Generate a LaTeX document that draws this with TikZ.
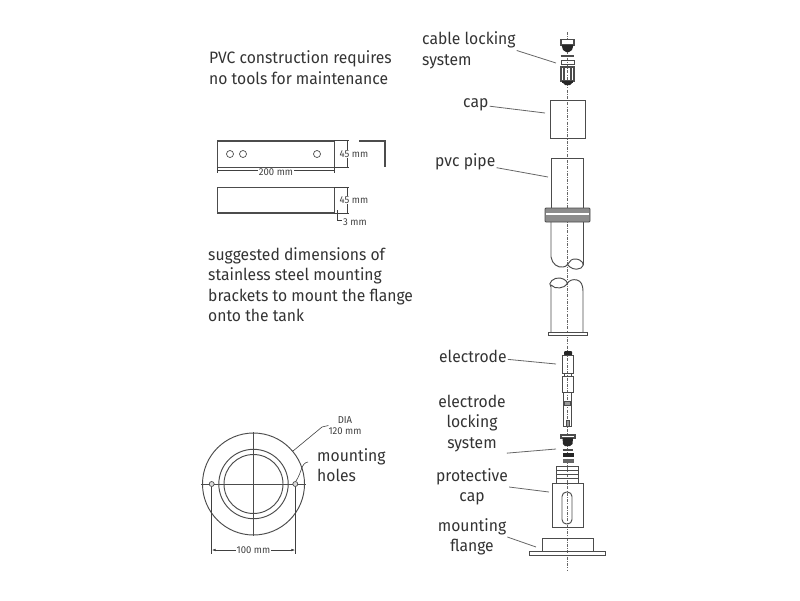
\documentclass[tikz,border=0pt]{standalone}
\usepackage{fontspec}
\setmainfont[FakeStretch=0.95]{Fira Sans}
\usetikzlibrary{arrows.meta}
\definecolor{inkgrey}{gray}{0.3}
\tikzset{
	lbl/.style={text=black!80, inner sep=1pt, font=\fontsize{16.5}{20.5}\selectfont},
	dimlbl/.style={text=black!75, inner sep=1pt, fill=white, font=\fontsize{10}{11}\selectfont},
	part/.style={draw=inkgrey, line width=0.95pt},
	thinpart/.style={draw=inkgrey, line width=0.7pt},
	leader/.style={draw=black!60, line width=0.8pt},
	dimline/.style={draw=black!75, line width=0.6pt},
	dimarrow/.style={dimline, {Latex[length=4pt,width=2.5pt]}-{Latex[length=4pt,width=2.5pt]}},
}
\begin{document}
\begin{tikzpicture}[x=1pt, y=-1pt]
	\useasboundingbox (0, 0) rectangle (800, 600);
	%%%%% TEXT %%%%%
	\node[lbl, align=left, anchor=west] (lblpvc) at (208, 67.5) {PVC construction requires\\no tools for maintenance};
	\node[lbl, align=left, anchor=west] (lblbracket) at (207, 284.5) {suggested dimensions of\\stainless steel mounting\\brackets to mount the flange\\onto the tank};
	\node[lbl, align=left, anchor=west] (lblholes) at (316, 465) {mounting\\holes};
	\node[lbl, align=left, anchor=west] (lblcable) at (421, 50.5) {cable locking\\system};
	\node[lbl, anchor=west] (lblcap) at (462, 104.5) {cap};
	\node[lbl, anchor=west] (lblpipe) at (434, 162) {pvc pipe};
	\node[lbl, anchor=west] (lblelectrode) at (438, 356) {electrode};
	\node[lbl, align=center] (lbllocking) at (472, 423.5) {electrode\\locking\\system};
	\node[lbl, align=center] (lblprotect) at (472, 487) {protective\\cap};
	\node[lbl, align=center] (lblflange) at (472, 537) {mounting\\flange};
	
	%%%%% TOP BRACKET %%%%%
	\draw[part] (217, 140) rectangle (334, 167);
	\draw[part] (217, 141.5) -- (334, 141.5);
	\draw[thinpart] (230, 154) circle (3.5);
	\draw[thinpart] (243, 154) circle (3.5);
	\draw[thinpart] (317, 154) circle (3.5);
	\draw[dimline] (334, 140) -- (349, 140);
	\draw[dimline] (334, 167) -- (349, 167);
	\draw[dimline] (347, 140) -- (347, 167);
	\draw[dimline] (217, 167) -- (217, 173);
	\draw[dimline] (334, 167) -- (334, 173);
	\draw[dimline] (217, 170.5) -- (334, 170.5);
	\node[dimlbl] (dim200) at (276, 172) {200 mm};
	\node[dimlbl] (dim45a) at (354, 154) {45 mm};
	\draw[part, line width=1.2pt] (359, 141) -- (385, 141) -- (385, 167);
	
	%%%%% LOWER BRACKET %%%%%
	\draw[part] (217, 187) rectangle (334, 213);
	\draw[part, line width=1.3pt] (217, 212.5) -- (334, 212.5);
	\draw[dimline] (334, 187) -- (349, 187);
	\draw[dimline] (334, 213) -- (349, 213);
	\draw[dimline] (347, 187) -- (347, 213);
	\node[dimlbl] (dim45b) at (354, 200) {45 mm};
	\draw[dimline] (337, 210) -- (337, 220) -- (342, 220);
	\node[dimlbl] (dim3) at (355, 222) {3 mm};
	
	%%%%% FLANGE PLAN %%%%%
	\draw[part] (253.5, 484) circle (51);
	\draw[part] (253.5, 484) circle (34.7);
	\draw[part] (253.5, 484) circle (29.5);
	\draw[thinpart] (201, 484) -- (306, 484);
	\draw[thinpart] (253.5, 432) -- (253.5, 536);
	\draw[thinpart, fill=black!15] (211.7, 484) circle (2.5);
	\draw[thinpart, fill=black!15] (295.3, 484) circle (2.5);
	\draw[dimline] (211.7, 487) -- (211.7, 554);
	\draw[dimline] (295.3, 487) -- (295.3, 554);
	\draw[dimarrow] (211.7, 550) -- (295.3, 550);
	\node[dimlbl] (dim100) at (253.5, 550) {100 mm};
	\node[dimlbl, align=center, inner sep=0pt] (dimdia) at (345, 425.5) {DIA\\120 mm};
	\coordinate (diatip) at (293, 451);
	\draw[dimline] (diatip) -- (322, 427) -- (dimdia.west);
	\coordinate (holetip) at (296, 481);
	\draw[dimline] (holetip) .. controls (302, 472) and (301, 463) .. (308, 462);
	
	%%%%% AXIS %%%%%
	\draw[black!60, line width=0.6pt, dash pattern=on 3pt off 1.2pt on 1pt off 1.2pt] (567.5, 32) -- (567.5, 570);
	
	%%%%% CABLE GLAND %%%%%
	\draw[part, fill=white, line width=1.3pt] (561, 39.5) rectangle (574, 45);
	\fill[black!85] (561.5, 45) -- (573.5, 45) -- (572, 50) -- (569, 52) -- (566, 52) -- (563, 50) -- cycle;
	\draw[part, line width=1.2pt] (560.5, 56) -- (574, 56);
	\draw[part] (561, 60) rectangle (574, 64);
	\draw[part, line width=1.3pt] (561, 67) rectangle (574, 81);
	\draw[black!70, line width=1.2pt] (564, 68) -- (564, 80);
	\draw[black!70, line width=1.2pt] (571, 68) -- (571, 80);
	\fill[black!85] (562, 81) rectangle (573, 83);
	\fill[black!85] (563, 83) -- (572, 83) -- (570, 85) -- (565, 85) -- cycle;
	
	%%%%% CAP %%%%%
	\draw[part] (550, 100) rectangle (585, 138);
	
	%%%%% PIPE %%%%%
	\draw[part] (551, 208) -- (551, 158) -- (583, 158) -- (583, 208);
	\fill[black!45, rounded corners=1pt] (545, 208) rectangle (590, 222);
	\fill[white] (546, 212.5) rectangle (589, 215);
	\draw[part, rounded corners=1pt] (545, 208) rectangle (590, 222);
	\draw[part] (551, 222) -- (551, 257) .. controls (552, 264) and (558, 268) .. (563, 267) .. controls (570, 266) and (568, 259) .. (575, 259) .. controls (582, 259) and (586, 265) .. (581, 268) .. controls (575, 271) and (570, 268) .. (567, 264);
	\draw[part] (583, 222) -- (583, 265);
	\draw[part] (551, 332) -- (551, 287) .. controls (547, 283) and (554, 277) .. (560, 278) .. controls (566, 279) and (568, 283) .. (567, 284) .. controls (565, 288) and (555, 290) .. (551, 285);
	\draw[part] (567, 284) .. controls (569, 280) and (573, 279) .. (577, 280) .. controls (581, 281) and (583, 285) .. (583, 291) -- (583, 332);
	\draw[part, fill=white] (548, 332) rectangle (587, 335);
	
	%%%%% ELECTRODE %%%%%
	\fill[black!85, rounded corners=1pt] (564, 351) rectangle (572, 355.5);
	\draw[thinpart] (562, 355) rectangle (573, 373);
	\draw[thinpart] (564, 373) rectangle (571.5, 376);
	\draw[thinpart] (562, 376) rectangle (573, 392);
	\draw[thinpart] (563.5, 392) rectangle (571.5, 403);
	\draw[thinpart] (563.5, 403) rectangle (571.5, 426);
	\draw[thinpart, fill=black!40] (566, 420) rectangle (569, 426);
	\draw[thinpart, fill=black!40] (564.5, 401) rectangle (570.5, 405);
	
	%%%%% LOCKING GLAND %%%%%
	\draw[part, fill=white, line width=1.2pt] (561, 435) rectangle (575, 438);
	\fill[black!85] (562.5, 438) -- (573, 438) -- (572.5, 444) -- (570, 446) -- (565, 446) -- (563, 444) -- cycle;
	\draw[part, line width=1.2pt] (562.5, 450) -- (573, 450);
	\fill[black!85] (562.5, 453) rectangle (573.5, 457);
	\fill[black!60] (562.5, 459) rectangle (573.5, 463);
	
	%%%%% PROTECTIVE CAP %%%%%
	\draw[part] (556.5, 466) rectangle (578.5, 483);
	\draw[thinpart] (556, 470) -- (579, 470);
	\draw[thinpart] (556, 474) -- (579, 474);
	\draw[thinpart] (556, 478) -- (579, 478);
	\draw[part] (552, 483) rectangle (583, 527);
	\draw[part, rounded corners=4.5pt] (562, 492) rectangle (572, 524);
	
	%%%%% MOUNTING FLANGE %%%%%
	\draw[part] (542, 551) -- (542, 538) -- (593, 538) -- (593, 551);
	\draw[part] (529, 551) rectangle (605, 555);
	
	%%%%% LEADERS %%%%%
	\coordinate (tipcable) at (556, 63);
	\coordinate (tipcap) at (545, 113);
	\coordinate (tippipe) at (548, 177);
	\coordinate (tipelectrode) at (556, 364);
	\coordinate (tiplocking) at (556, 449);
	\coordinate (tipprotect) at (549, 492);
	\coordinate (tipflange) at (536, 547);
	\draw[leader] (lblcable.east) -- (tipcable);
	\draw[leader] (lblcap) -- (tipcap);
	\draw[leader] (lblpipe) -- (tippipe);
	\draw[leader] (lblelectrode) -- (tipelectrode);
	\draw[leader] (lbllocking.south east) -- (tiplocking);
	\draw[leader] (lblprotect.east) -- (tipprotect);
	\draw[leader] (lblflange.east) -- (tipflange);
\end{tikzpicture}
\end{document}
